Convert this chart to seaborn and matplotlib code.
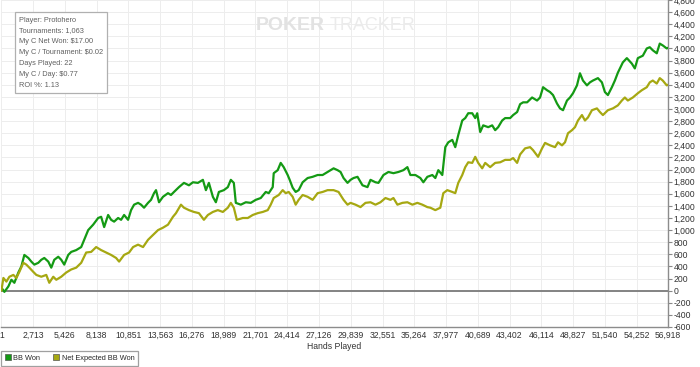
import matplotlib
matplotlib.use('Agg')
import numpy as np
import pandas as pd
import seaborn as sns
from matplotlib import pyplot as plt
from matplotlib.lines import Line2D
from matplotlib.ticker import FuncFormatter, MultipleLocator

# values (hands played, big blinds)
bb_hands = [0, 256, 596, 852, 1108, 1448, 1704, 1960, 2300, 2556, 2812, 3152, 3408, 3664,
            4004, 4260, 4516, 4856, 5112, 5368, 5708, 5964, 6390, 6816, 7072, 7412, 7838,
            8264, 8520, 8776, 9116, 9372, 9628, 9968, 10224, 10480, 10820, 11076, 11332,
            11672, 11928, 12184, 12524, 12780, 13036, 13206, 13462, 13802, 14228, 14484,
            14740, 15166, 15592, 16018, 16358, 16784, 17210, 17466, 17722, 18062, 18318,
            18574, 19000, 19340, 19596, 19852, 20022, 20448, 20874, 21300, 21726, 22152,
            22578, 22834, 23174, 23260, 23600, 23856, 24112, 24452, 24623, 24878, 25134,
            25390, 25730, 26156, 26582, 27008, 27434, 27860, 28116, 28372, 28712, 28968,
            29224, 29564, 29820, 30076, 30416, 30842, 31268, 31524, 31950, 32206, 32632,
            33058, 33484, 33910, 34336, 34676, 34932, 35358, 35784, 36040, 36380, 36806,
            37062, 37318, 37658, 37914, 38170, 38510, 38766, 39022, 39362, 39618, 39874,
            40214, 40470, 40640, 40896, 41152, 41578, 41918, 42174, 42430, 42770, 43026,
            43452, 43708, 44048, 44304, 44560, 44900, 45326, 45752, 46008, 46264, 46604,
            46860, 47116, 47456, 47712, 47968, 48308, 48564, 48820, 49160, 49416, 49672,
            50012, 50268, 50524, 50950, 51290, 51546, 51802, 52142, 52398, 52654, 53080,
            53420, 53846, 54102, 54358, 54784, 55124, 55380, 55636, 55976, 56232, 56488,
            56828, 56918]
bb_won = [50, -20, 70, 180, 130, 300, 400, 590, 540, 480, 430, 460, 510, 540,
          480, 380, 510, 560, 510, 430, 590, 640, 670, 720, 840, 1000, 1090,
          1200, 1220, 1050, 1250, 1170, 1140, 1200, 1170, 1250, 1170, 1330, 1420,
          1450, 1420, 1370, 1450, 1500, 1610, 1660, 1460, 1550, 1610, 1580,
          1630, 1710, 1780, 1740, 1790, 1780, 1830, 1660, 1780, 1550, 1460,
          1630, 1660, 1710, 1830, 1780, 1450, 1420, 1460, 1450, 1500, 1530,
          1630, 1610, 1710, 1940, 1990, 2110, 2040, 1910, 1830, 1700, 1630,
          1660, 1790, 1860, 1880, 1910, 1910, 1960, 1990, 2020, 1990, 1960,
          1860, 1780, 1830, 1860, 1880, 1740, 1710, 1830, 1790, 1780, 1910,
          1960, 1940, 1960, 1990, 2040, 1910, 1910, 1860, 1790, 1880, 1910,
          1860, 1990, 1910, 2370, 2450, 2490, 2370, 2570, 2810, 2850, 2930,
          2930, 2850, 2930, 2620, 2730, 2700, 2730, 2650, 2700, 2810, 2850,
          2850, 2900, 2950, 3080, 3110, 3110, 3190, 3140, 3190, 3360, 3310,
          3280, 3230, 3090, 3010, 2980, 3140, 3190, 3260, 3390, 3590, 3470,
          3390, 3440, 3470, 3510, 3440, 3280, 3230, 3360, 3470, 3600, 3770,
          3840, 3750, 3670, 3840, 3880, 4000, 4020, 3970, 3920, 4080, 4050,
          4000, 4010]

ev_hands = [0, 170, 426, 682, 1022, 1278, 1534, 1874, 2130, 2386, 2726, 2982, 3408, 3834,
            4090, 4430, 4686, 5112, 5538, 5964, 6390, 6816, 7242, 7668, 8094, 8520, 8946,
            9372, 9798, 10054, 10480, 10906, 11246, 11672, 12098, 12524, 12950, 13376,
            13802, 14228, 14654, 14910, 15336, 15592, 16018, 16444, 16870, 17296, 17636,
            18062, 18488, 18914, 19340, 19596, 19852, 20107, 20618, 21044, 21470, 21896,
            22322, 22748, 23004, 23260, 23686, 24026, 24282, 24538, 24878, 25134, 25390,
            25730, 26156, 26582, 27008, 27434, 27860, 28372, 28798, 29224, 29564, 29820,
            30246, 30672, 31098, 31524, 31950, 32376, 32802, 33228, 33484, 33824, 34250,
            34676, 35102, 35528, 35954, 36380, 36636, 37062, 37488, 37744, 38084, 38510,
            38766, 39022, 39362, 39618, 39874, 40214, 40470, 40726, 41066, 41322, 41748,
            42174, 42600, 43026, 43452, 43708, 44048, 44304, 44730, 45156, 45412, 45838,
            46178, 46434, 46860, 47286, 47542, 47882, 48138, 48394, 48734, 48990, 49246,
            49586, 49842, 50098, 50438, 50864, 51120, 51376, 51802, 52228, 52654, 52994,
            53250, 53506, 53932, 54358, 54698, 55124, 55380, 55636, 55976, 56232, 56488,
            56828, 56918]
ev_won = [0, 210, 150, 230, 260, 210, 310, 460, 430, 380, 310, 260, 230, 260,
          130, 230, 180, 230, 300, 350, 380, 460, 630, 640, 720, 670, 630,
          590, 540, 480, 590, 630, 720, 760, 720, 840, 920, 1000,
          1040, 1090, 1220, 1280, 1420, 1370, 1330, 1300, 1280, 1170, 1250,
          1300, 1330, 1300, 1370, 1450, 1370, 1170, 1200, 1200, 1250, 1280,
          1300, 1330, 1420, 1530, 1580, 1660, 1610, 1630, 1550, 1420, 1500,
          1580, 1550, 1500, 1610, 1630, 1660, 1660, 1630, 1500, 1420, 1450,
          1420, 1380, 1450, 1460, 1420, 1460, 1530, 1500, 1530, 1420, 1450,
          1460, 1420, 1450, 1420, 1380, 1370, 1330, 1370, 1610, 1660, 1630,
          1610, 1780, 1910, 2040, 2120, 2110, 2210, 2110, 2020, 2110, 2040,
          2110, 2120, 2160, 2160, 2190, 2110, 2250, 2350, 2370, 2320, 2210,
          2350, 2440, 2400, 2370, 2450, 2400, 2450, 2600, 2650, 2700, 2810,
          2900, 2810, 2860, 2980, 3010, 2950, 2900, 2980, 3010, 3060, 3140,
          3190, 3140, 3190, 3260, 3310, 3360, 3440, 3470, 3420, 3510, 3470,
          3390, 3400]

x_ticks = [1, 2713, 5426, 8138, 10851, 13563, 16276, 18989, 21701, 24414, 27126,
           29839, 32551, 35264, 37977, 40689, 43402, 46114, 48827, 51540, 54252, 56918]
series_names = ['BB Won', 'Net Expected BB Won']
series_colors = ['#149a14', '#a6a812']

info_lines = ['Player: Protohero', 'Tournaments: 1,063', 'My C Net Won: $17.00',
              'My C / Tournament: $0.02', 'Days Played: 22', 'My C / Day: $0.77',
              'ROI %: 1.13']

df = pd.concat([
    pd.DataFrame({'Hands': bb_hands, 'BB': bb_won, 'Series': series_names[0]}),
    pd.DataFrame({'Hands': ev_hands, 'BB': ev_won, 'Series': series_names[1]}),
], ignore_index=True)

sns.set_style('white')
plt.rcParams['font.family'] = ['Liberation Sans', 'DejaVu Sans']

fig = plt.figure(figsize=(7, 3.67), dpi=100)
ax = fig.add_axes([0.002, 0.109, 0.952, 0.891])

sns.lineplot(data=df, x='Hands', y='BB', hue='Series', palette=series_colors,
             hue_order=series_names, estimator=None, sort=False, linewidth=1.6,
             legend=False, ax=ax, zorder=3)

ax.set_xlim(0, 56918)
ax.set_ylim(-600, 4800)
ax.axhline(0, color='#7a7a7a', lw=1.3, zorder=2)

ax.set_xticks(x_ticks)
ax.set_xticklabels([f'{t:,}' for t in x_ticks])
ax.yaxis.set_major_locator(MultipleLocator(200))
ax.yaxis.set_major_formatter(FuncFormatter(lambda v, p: f'{int(v):,}'))
ax.yaxis.tick_right()
ax.tick_params(axis='y', direction='out', length=3, width=0.8, color='#888888',
               labelsize=6.2, labelcolor='#333333', pad=1)
ax.tick_params(axis='x', length=0, labelsize=6.2, labelcolor='#333333', pad=3)
ax.grid(True, color='#ededed', lw=0.7, zorder=0)

for s in ['left', 'top']:
    ax.spines[s].set_visible(False)
for s in ['right', 'bottom']:
    ax.spines[s].set_color('#8c8c8c')
    ax.spines[s].set_linewidth(1.0)

ax.set_xlabel('Hands Played', fontsize=6.2, color='#333333', labelpad=1)
ax.set_ylabel('')

# info box
fig.text(0.027, 0.955, '\n'.join(info_lines), fontsize=5.3, color='#606060',
         va='top', ha='left', linespacing=1.78,
         bbox=dict(boxstyle='square,pad=0.55', fc='white', ec='#b0b0b0', lw=0.9))

# watermark
fig.text(0.365, 0.93, 'POKER', fontsize=14, fontweight='bold', color='#e2e2e2',
         ha='left', va='center')
fig.text(0.471, 0.93, 'TRACKER', fontsize=13, color='#ebebeb', ha='left', va='center')

handles = [Line2D([], [], marker='s', linestyle='None', markersize=4.5,
                  markerfacecolor=c, markeredgecolor='#555555', markeredgewidth=0.5,
                  label=n) for n, c in zip(series_names, series_colors)]
leg = fig.legend(handles=handles, loc='lower left', bbox_to_anchor=(0.0, 0.0),
                 ncol=2, fontsize=5.3, frameon=True, fancybox=False,
                 handlelength=0.7, handletextpad=0.4, columnspacing=1.8,
                 borderpad=0.55, borderaxespad=0.15)
leg.get_frame().set_edgecolor('#888888')
leg.get_frame().set_linewidth(0.9)

fig.savefig('out.png', dpi=100)
